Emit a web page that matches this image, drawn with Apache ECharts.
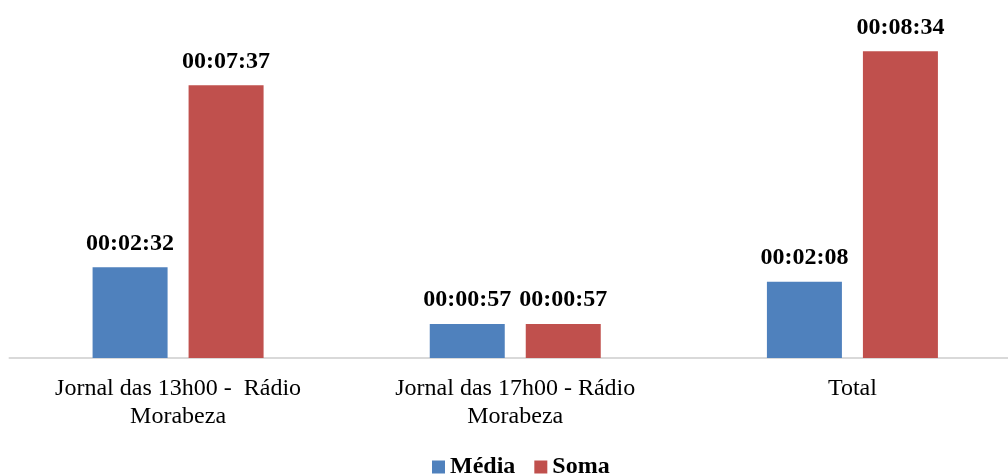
<!DOCTYPE html>
<html><head><meta charset="utf-8">
<script src="https://cdn.jsdelivr.net/npm/echarts@6/dist/echarts.min.js"></script>
<style>html,body{margin:0;padding:0;background:#fff;overflow:hidden}#c{width:1021px;height:476px}</style>
</head><body><div id="c"></div>
<script>
const categories = ["Jornal das 13h00 -  Rádio\nMorabeza", "Jornal das 17h00 - Rádio\nMorabeza", "Total"];
const mediaTimes = ["00:02:32", "00:00:57", "00:02:08"];
const somaTimes = ["00:07:37", "00:00:57", "00:08:34"];
const seriesNames = ["Média", "Soma"];

function toSec(t){const p=t.split(':').map(Number);return p[0]*3600+p[1]*60+p[2];}
function toHMS(s){const h=Math.floor(s/3600),m=Math.floor((s%3600)/60),x=s%60;const f=n=>String(n).padStart(2,'0');return f(h)+':'+f(m)+':'+f(x);}

const font = "'Liberation Serif','Times New Roman',serif";
const labelCfg = {show:true, position:'top', distance:12, fontFamily:font, fontWeight:'bold', fontSize:24, color:'#000', formatter:p=>toHMS(p.value)};

const chart = echarts.init(document.getElementById('c'), null, {renderer:'canvas'});
chart.setOption({
  animation:false,
  grid:{left:9.5, top:0, right:0, height:358, containLabel:false},
  legend:{top:450, left:427, itemWidth:13, itemHeight:13, itemGap:19, icon:'rect',
    textStyle:{fontFamily:font, fontWeight:'bold', fontSize:24, color:'#000'}, data:seriesNames},
  xAxis:{type:'category', data:categories, axisLine:{lineStyle:{color:'#d9d9d9', width:2}}, axisTick:{show:false},
    axisLabel:{fontFamily:font, fontSize:24, color:'#000', lineHeight:28, margin:17, interval:0}},
  yAxis:{type:'value', min:0, max:600, show:false, splitLine:{show:false}},
  series:[
    {name:seriesNames[0], type:'bar', data:mediaTimes.map(toSec), barWidth:75, barGap:'28%', itemStyle:{color:'#4f81bd'}, label:labelCfg},
    {name:seriesNames[1], type:'bar', data:somaTimes.map(toSec), barWidth:75, itemStyle:{color:'#c0504d'}, label:labelCfg}
  ]
});
</script></body></html>
